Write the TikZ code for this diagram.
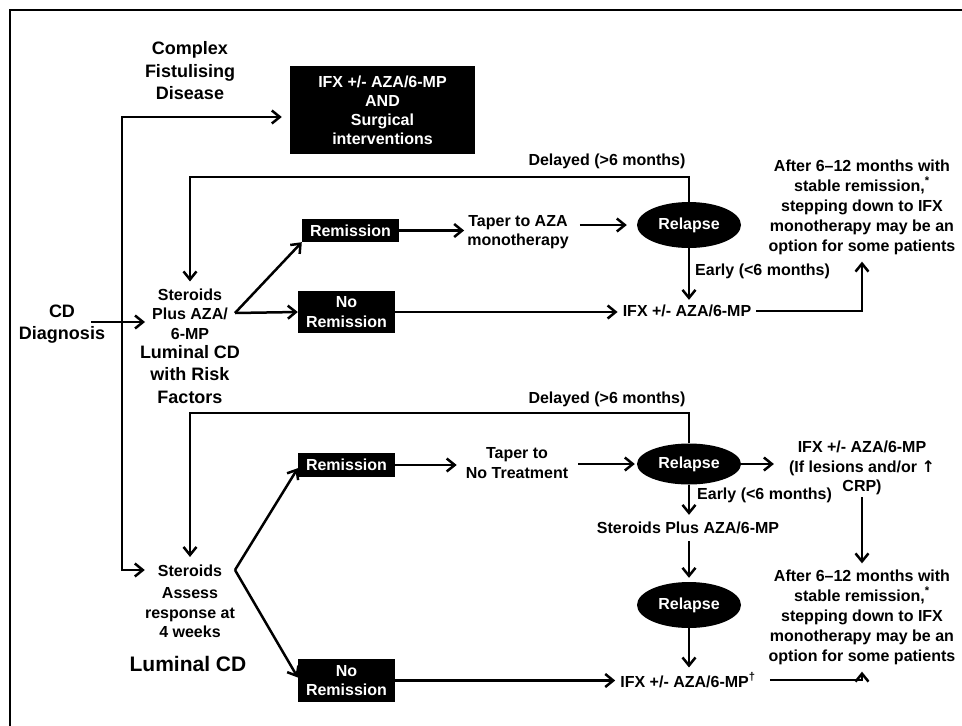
\documentclass[tikz,border=0pt]{standalone}
\usepackage{fontspec}
\setmainfont{Liberation Sans}
\newfontfamily\symfont{DejaVu Sans}
\usetikzlibrary{arrows.meta,shapes.geometric}
\begin{document}
\begin{tikzpicture}[x=1pt,y=-1pt,
  every node/.style={inner sep=0pt, align=center, font=\bfseries\fontsize{16}{19.5}\selectfont},
  head/.style={font=\bfseries\fontsize{18}{22.5}\selectfont},
  big/.style={font=\bfseries\fontsize{21}{25}\selectfont},
  note/.style={font=\bfseries\fontsize{16}{20}\selectfont},
  blackbox/.style={fill=black, text=white, minimum width=97pt},
  relapse/.style={ellipse, fill=black, text=white, minimum width=104pt, minimum height=46pt},
  conn/.style={line width=2.5pt, -{Straight Barb[length=8pt,width=13pt]}},
  both/.style={line width=2.5pt, {Straight Barb[length=8pt,width=13pt]}-{Straight Barb[length=8pt,width=13pt]}},
  frame/.style={line width=2.8pt}]

\useasboundingbox (0,0) rectangle (962,726);
\coordinate (fbl) at (10,726);
\coordinate (ftl) at (10,10);
\coordinate (ftr) at (962,10);
\draw[frame] (fbl) -- (ftl) -- (ftr);

% ---------- upper part ----------
\node[head] (cfd) at (190,71) {Complex\\Fistulising\\Disease};
\node[blackbox, minimum width=185pt, minimum height=88pt, font=\bfseries\fontsize{16}{19}\selectfont] (ifxbox) at (382.5,110) {IFX +/- AZA/6-MP\\AND\\Surgical\\interventions};
\node[head] (cd) at (62,324) {CD\\Diagnosis};
\coordinate (cdout) at (91,322);
\node (st1) at (190,314) {Steroids\\Plus AZA/\\6-MP};
\node[head] (lcdr) at (190,374.5) {Luminal CD\\with Risk\\Factors};

\node[blackbox, minimum height=23pt] (rem1) at (350.5,230.5) {Remission};
\node[blackbox, minimum height=42pt] (norem1) at (346.5,312) {No\\Remission};
\node (tap1) at (518,232) {Taper to AZA\\monotherapy};
\node[relapse] (rel1) at (689,225) {Relapse};
\node (ifx1) at (687,311) {IFX +/- AZA/6-MP};
\node[anchor=west] (early1) at (695,271) {Early (<6 months)};
\node (del1) at (607,161) {Delayed (>6 months)};
\node[note] (aft1) at (862,207) {After 6–12 months with\\stable remission,\textsuperscript{*}\\stepping down to IFX\\monotherapy may be an\\option for some patients};

\coordinate (ttop) at (122,117);
\coordinate (tbot) at (122,570);
\node (st2) at (190,571) {Steroids};
\draw[both, shorten <=8pt, shorten >=13pt] (ifxbox.west |- ttop) -- (ttop) -- (tbot) -- (st2.west |- tbot);
\draw[conn, shorten >=7pt] (cdout) -- (st1.west |- cdout);

\coordinate (l1a) at (689,177);
\coordinate (l1b) at (190,177);
\draw[conn, shorten >=7pt] (rel1.north) -- (l1a) -- (l1b) -- (st1.north);

\coordinate (fk1) at (235,313);
\draw[conn] (fk1) -- (rem1.south west);
\draw[conn] (fk1) -- (norem1.west);
\draw[conn, shorten >=3pt] (rem1.east) -- (tap1.west |- rem1.east);
\draw[conn, shorten <=11pt, shorten >=10pt] (tap1.east |- rel1.west) -- (rel1.west);
\draw[conn, shorten >=5pt] (rel1.south) -- (rel1.south |- ifx1.north);
\draw[conn, shorten >=5pt] (norem1.east) -- (ifx1.west |- norem1.east);
\draw[conn, shorten <=5pt] (ifx1.east) -- (aft1.south |- ifx1.east) -- ([yshift=-7pt]aft1.south);

% ---------- lower part ----------
\node (asr) at (190,613) {Assess\\response at\\4 weeks};
\node[big] (lcd) at (188,664) {Luminal CD};
\node (del2) at (607,399) {Delayed (>6 months)};
\node[blackbox, minimum height=24pt] (rem2) at (346.5,465) {Remission};
\node[blackbox, minimum height=43pt] (norem2) at (346.5,680.5) {No\\Remission};
\node (tap2) at (517,463) {Taper to\\No Treatment};
\node[relapse, minimum height=41pt] (rel2) at (689,464) {Relapse};
\node (ifx2) at (862,468) {IFX +/- AZA/6-MP\\(If lesions and/or {\symfont\bfseries ↑}\\CRP)};
\node[anchor=west] (early2) at (697,495) {Early (<6 months)};
\node (spa) at (688,528) {Steroids Plus AZA/6-MP};
\node[relapse] (rel3) at (689,605) {Relapse};
\node (ifx3) at (688,680) {IFX +/- AZA/6-MP\textsuperscript{†}};
\node[note] (aft2) at (862,617) {After 6–12 months with\\stable remission,\textsuperscript{*}\\stepping down to IFX\\monotherapy may be an\\option for some patients};

\coordinate (l2a) at (689,413);
\coordinate (l2b) at (190,413);
\draw[conn, shorten >=8pt] (rel2.north) -- (l2a) -- (l2b) -- (st2.north);

\coordinate (fk2) at (235,570);
\draw[conn] (fk2) -- ([yshift=9pt]rem2.south west);
\draw[conn] (fk2) -- ([yshift=3pt]norem2.west);
\draw[conn, shorten >=9pt] (rem2.east) -- (tap2.west |- rem2.east);
\draw[conn, shorten <=10pt, shorten >=2pt] (tap2.east |- rel2.west) -- (rel2.west);
\draw[conn, shorten >=15pt] (rel2.east) -- (ifx2.west |- rel2.east);
\draw[conn, shorten <=2pt] (ifx2.south) -- ([yshift=6pt]aft2.north);
\draw[conn, shorten >=7pt] (rel2.south) -- (rel2.south |- spa.north);
\draw[conn, shorten <=7pt, shorten >=4pt] (rel3.north |- spa.south) -- (rel3.north);
\draw[conn, shorten >=5pt] (rel3.south) -- (rel3.south |- ifx3.north);
\draw[conn, shorten >=5pt] (norem2.east) -- (ifx3.west |- norem2.east);
\draw[conn, shorten <=14pt] (ifx3.east) -- (aft2.south |- ifx3.east) -- ([yshift=-7pt]aft2.south);
\end{tikzpicture}
\end{document}
